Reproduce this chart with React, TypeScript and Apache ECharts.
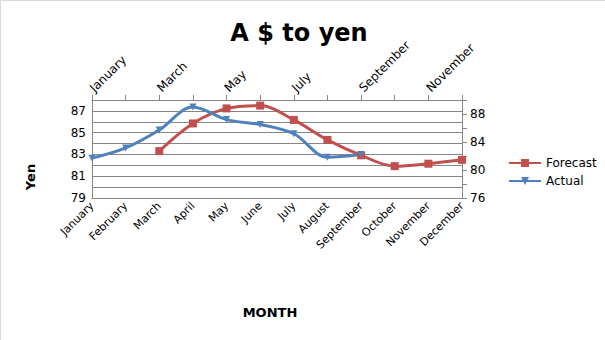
import React, { useEffect, useRef } from "react";
import * as echarts from "echarts";

const months = ["January", "February", "March", "April", "May", "June", "July", "August", "September", "October", "November", "December"];
const actual = [82.66, 83.6, 85.25, 87.35, 86.2, 85.75, 84.9, 82.75, 83.0, null, null, null];
const forecast = [null, null, 82.7, 86.65, 88.8, 89.2, 87.15, 84.3, 82.1, 80.55, 80.9, 81.45];

const FONT = "DejaVu Sans";
const RED = "#C0504D";
const BLUE = "#4F81BD";
const GRID = "#868686";

export default function App() {
  const ref = useRef<HTMLDivElement>(null);
  useEffect(() => {
    if (!ref.current) return;
    const chart = echarts.init(ref.current, undefined, { renderer: "svg" });
    chart.setOption({
      animation: false,
      backgroundColor: "#ffffff",
      textStyle: { fontFamily: FONT },
      grid: { left: 92, right: 143, top: 100, bottom: 142 },
      legend: {
        orient: "vertical",
        left: 503,
        top: 152,
        itemGap: 6,
        itemWidth: 32,
        itemHeight: 10,
        textStyle: { fontFamily: FONT, fontSize: 12, color: "#000" },
        data: ["Forecast", "Actual"],
      },
      xAxis: [
        {
          type: "category",
          data: months,
          position: "bottom",
          boundaryGap: false,
          axisLine: { lineStyle: { color: GRID } },
          axisTick: { show: false },
          axisLabel: { rotate: 45, fontFamily: FONT, fontSize: 11, color: "#000", interval: 0, margin: 6 },
        },
        {
          type: "category",
          data: months,
          position: "top",
          boundaryGap: false,
          axisLine: { lineStyle: { color: GRID } },
          axisTick: { show: true, length: 5, interval: 0, lineStyle: { color: GRID } },
          axisLabel: { rotate: -45, fontFamily: FONT, fontSize: 12, color: "#000", interval: 1, margin: 10 },
        },
      ],
      yAxis: [
        {
          type: "value",
          min: 79,
          max: 88,
          interval: 1,
          position: "left",
          axisLine: { show: true, lineStyle: { color: GRID } },
          axisTick: { show: false },
          splitLine: { show: true, lineStyle: { color: GRID, width: 1 } },
          axisLabel: {
            fontFamily: FONT,
            fontSize: 12,
            color: "#000",
            margin: 6,
            formatter: (v: number) => (Math.round(v) % 2 === 1 ? String(v) : ""),
          },
        },
        {
          type: "value",
          min: 76,
          max: 90,
          interval: 2,
          position: "right",
          axisLine: { show: true, lineStyle: { color: GRID } },
          axisTick: { show: true, length: 5, lineStyle: { color: GRID } },
          splitLine: { show: false },
          axisLabel: {
            fontFamily: FONT,
            fontSize: 12,
            color: "#000",
            margin: 8,
            formatter: (v: number) => (Math.round(v) % 4 === 0 ? String(v) : ""),
          },
        },
      ],
      series: [
        {
          name: "Forecast",
          type: "line",
          xAxisIndex: 1,
          yAxisIndex: 1,
          data: forecast,
          smooth: 0.35,
          symbol: "rect",
          symbolSize: 8,
          lineStyle: { color: RED, width: 3 },
          itemStyle: { color: RED },
        },
        {
          name: "Actual",
          type: "line",
          xAxisIndex: 0,
          yAxisIndex: 0,
          data: actual,
          smooth: 0.35,
          symbol: "triangle",
          symbolRotate: 180,
          symbolSize: 7,
          lineStyle: { color: BLUE, width: 3 },
          itemStyle: { color: BLUE },
        },
      ],
      graphic: [
        {
          type: "rect",
          shape: { x: 0.5, y: 0.5, width: 620, height: 360 },
          style: { fill: "none", stroke: "#d9d9d9", lineWidth: 1 },
          silent: true,
        },
        {
          type: "text",
          x: 299,
          y: 33,
          style: { text: "A $ to yen", font: `bold 24px ${FONT}`, fill: "#000", textAlign: "center", textVerticalAlign: "middle" },
        },
        {
          type: "text",
          x: 30,
          y: 177,
          rotation: Math.PI / 2,
          style: { text: "Yen", font: `bold 13px ${FONT}`, fill: "#000", textAlign: "center", textVerticalAlign: "middle" },
        },
        {
          type: "text",
          x: 270,
          y: 312,
          style: { text: "MONTH", font: `bold 13px ${FONT}`, fill: "#000", textAlign: "center", textVerticalAlign: "middle" },
        },
      ],
    });
    return () => chart.dispose();
  }, []);
  return <div ref={ref} style={{ position: "absolute", left: 0, top: 0, width: 605, height: 340 }} />;
}
